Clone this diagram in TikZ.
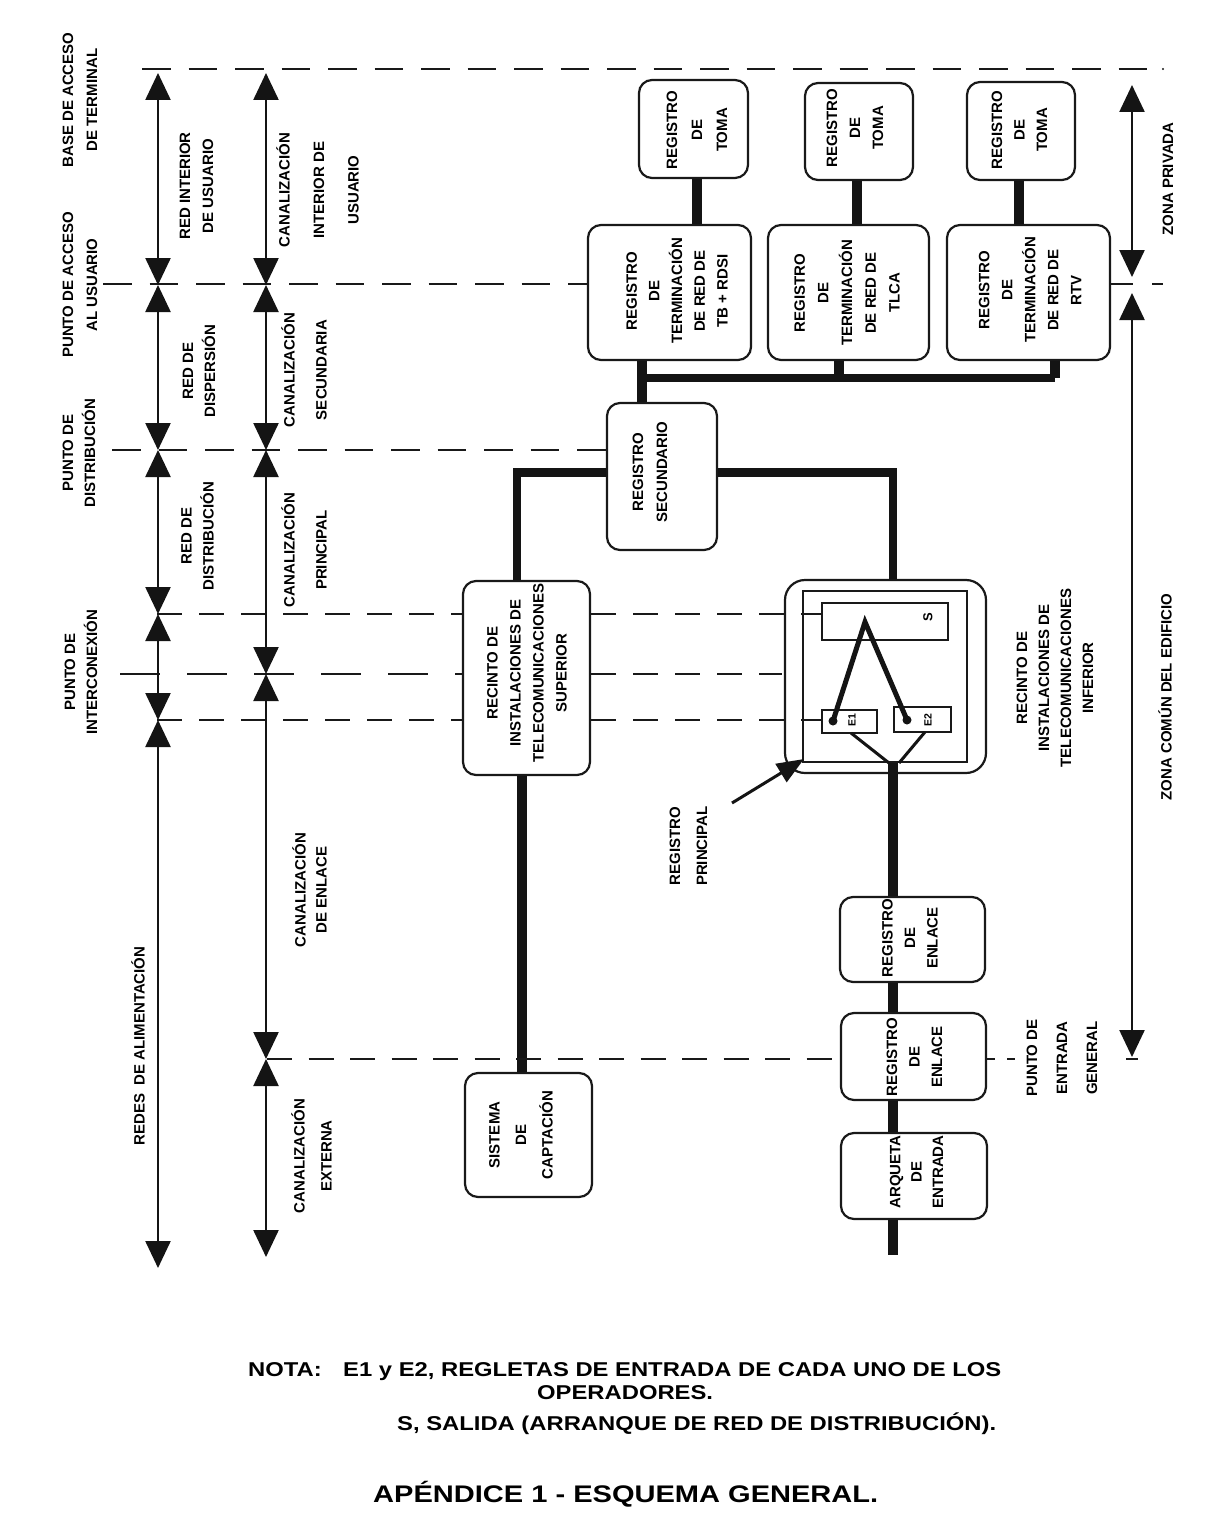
\documentclass[tikz,border=0pt]{standalone}
\usepackage{fontspec}
\setmainfont{Liberation Sans}
\usetikzlibrary{arrows.meta,calc}
\tikzset{
  txt/.style={rotate=90,align=center,inner sep=0pt,font=\bfseries\fontsize{15}{#1}\selectfont},
  txt/.default=23,
  rbox/.style={draw=black!90,line width=2.2pt,rounded corners=13pt,rotate=90,inner sep=0pt},
  sbox/.style={draw=black!90,line width=2.2pt,rotate=90,inner sep=0pt},
  heavy/.style={line width=9.5pt,black!92},
  axis/.style={line width=2.4pt,black!92,{Triangle[length=27pt,width=25pt]}-{Triangle[length=27pt,width=25pt]}},
  shortdash/.style={line width=2pt,black!90,dash pattern=on 25pt off 17pt},
  longdash/.style={line width=2pt,black!90,dash pattern=on 28.5pt off 18pt},
  widedash/.style={line width=2pt,black!90,dash pattern=on 40pt off 27pt},
  solidbit/.style={line width=2pt,black!90},
  tie/.style={line width=5pt,black!92},
  thinlink/.style={line width=3pt,black!92},
  notetext/.style={inner sep=0pt,anchor=base west,font=\bfseries\fontsize{20}{22}\selectfont\addfontfeature{FakeStretch=1.19}}
}
\begin{document}
\begin{tikzpicture}[x=1pt,y=-1pt]
\useasboundingbox (0,0) rectangle (1213,1536);
\fill[white] (0,0) rectangle (1213,1536);

% ---- boxes (rotated nodes: minimum width runs up the page)
\node[rbox,minimum width=98pt,minimum height=109pt] (toma1) at (693.5,129) {};
\node[rbox,minimum width=97pt,minimum height=108pt] (toma2) at (859,131.5) {};
\node[rbox,minimum width=98pt,minimum height=108pt] (toma3) at (1021,131) {};
\node[rbox,minimum width=135pt,minimum height=163pt] (term1) at (669.5,292.5) {};
\node[rbox,minimum width=135pt,minimum height=161pt] (term2) at (848.5,292.5) {};
\node[rbox,minimum width=135pt,minimum height=163pt] (term3) at (1028.5,292.5) {};
\node[rbox,minimum width=147pt,minimum height=110pt] (sec) at (662,476.5) {};
\node[rbox,minimum width=194pt,minimum height=127pt] (sup) at (526.5,678) {};
\node[rbox,minimum width=124pt,minimum height=127pt] (capt) at (528.5,1135) {};
\node[rbox,minimum width=193pt,minimum height=201pt,rounded corners=20pt] (outer) at (885.5,676.5) {};
\node[sbox,minimum width=171pt,minimum height=164pt] (inner) at (885,676.5) {};
\node[sbox,minimum width=37pt,minimum height=126pt] (sreg) at (885,621.5) {};
\node[sbox,minimum width=23pt,minimum height=55pt] (e1) at (849.5,721.5) {};
\node[sbox,minimum width=25pt,minimum height=57pt] (e2) at (922.5,719.5) {};
\node[rbox,minimum width=85pt,minimum height=145pt] (enl1) at (912.5,939.5) {};
\node[rbox,minimum width=87pt,minimum height=145pt] (enl2) at (913.5,1056.5) {};
\node[rbox,minimum width=86pt,minimum height=146pt] (arq) at (914,1176) {};

% ---- box texts
\node[txt=25] (ltoma1) at (697,130) {REGISTRO\\DE\\TOMA};
\node[txt=23] (ltoma2) at (855,128) {REGISTRO\\DE\\TOMA};
\node[txt=22.5] (ltoma3) at (1019.5,130) {REGISTRO\\DE\\TOMA};
\node[txt=22.7] (lterm1) at (677,291) {REGISTRO\\DE\\TERMINACIÓN\\DE RED DE\\TB + RDSI};
\node[txt=23.7] (lterm2) at (847,293) {REGISTRO\\DE\\TERMINACIÓN\\DE RED DE\\TLCA};
\node[txt=23] (lterm3) at (1030,290) {REGISTRO\\DE\\TERMINACIÓN\\DE RED DE\\RTV};
\node[txt=24] (lsec) at (650,472) {REGISTRO\\SECUNDARIO};
\node[txt=23] (lsup) at (527,673) {RECINTO DE\\INSTALACIONES DE\\TELECOMUNICACIONES\\SUPERIOR};
\node[txt=26.5] (lcapt) at (521,1135) {SISTEMA\\DE\\CAPTACIÓN};
\node[txt=22.5] (lenl1) at (910,938) {REGISTRO\\DE\\ENLACE};
\node[txt=22.5] (lenl2) at (914.5,1057) {REGISTRO\\DE\\ENLACE};
\node[txt=21.5] (larq) at (916.5,1172) {ARQUETA\\DE\\ENTRADA};

\node[rotate=90,inner sep=0pt,font=\bfseries\fontsize{13}{14}\selectfont] (lS) at (928,617) {S};
\node[rotate=90,inner sep=0pt,font=\bfseries\fontsize{10.5}{11}\selectfont] (lE1) at (852,720) {E1};
\node[rotate=90,inner sep=0pt,font=\bfseries\fontsize{10.5}{11}\selectfont] (lE2) at (928,720) {E2};

% ---- heavy connectors
\coordinate (xa) at (697,0); \coordinate (xb) at (857,0); \coordinate (xc) at (1019,0);
\coordinate (xd) at (642,0); \coordinate (xe) at (839,0); \coordinate (xf) at (1055,0);
\coordinate (ybus) at (0,378);
\coordinate (xm) at (893,0);
\coordinate (tail) at (893,1255);
\draw[heavy] (xa |- toma1.west) -- (xa |- term1.east);
\draw[heavy] (xb |- toma2.west) -- (xb |- term2.east);
\draw[heavy] (xc |- toma3.west) -- (xc |- term3.east);
\draw[heavy] (xd |- term1.west) -- (xd |- sec.east);
\draw[heavy] (xe |- term2.west) -- (xe |- ybus);
\draw[heavy] (xf |- term3.west) -- (xf |- ybus);
\draw[heavy,line width=8pt,line cap=square] (xd |- ybus) -- (xf |- ybus);
\coordinate (ys) at (0,472.5); \coordinate (xl) at (517,0);
\draw[heavy,line width=8.5pt,line join=miter] (sec.north |- ys) -- (xl |- ys) -- (xl |- sup.east);
\draw[heavy,line width=8.5pt,line join=miter] (sec.south |- ys) -- (xm |- ys) -- (xm |- outer.east);
\coordinate (xl2) at (522,0);
\draw[heavy] (xl2 |- sup.west) -- (xl2 |- capt.east);
\coordinate (junc) at (893,763);
\draw[heavy] (junc) -- (xm |- enl1.east);
\draw[heavy] (xm |- enl1.west) -- (xm |- enl2.east);
\draw[heavy] (xm |- enl2.west) -- (xm |- arq.east);
\draw[heavy] (xm |- arq.west) -- (tail);

% ---- inside the main register
\coordinate (apex) at (865,622);
\coordinate (d1) at (833,721);
\coordinate (d2) at (907,720);
\draw[tie,line join=miter] (d1) -- (apex) -- (d2);
\fill[black!92] (d1) circle (4.5pt) (d2) circle (4.5pt);
\coordinate (b1) at (851,733); \coordinate (b2) at (925,732);
\draw[thinlink] (b1) -- (889,763);
\draw[thinlink] (b2) -- (899,763);

% ---- arrow to main register
\coordinate (ra) at (732,803);
\coordinate (rb) at (804,759);
\draw[line width=3pt,black!92,-{Triangle[length=27pt,width=21pt]}] (ra) -- (rb);

% ---- dashed levels
\coordinate (y0l) at (142,69); \coordinate (y0r) at (1150,69); \coordinate (y0s) at (1163,69);
\draw[longdash] (y0l) -- (y0r);
\fill[black!90] (y0s) circle (1.2pt);
\coordinate (y1l) at (103,284); \coordinate (y1m) at (1133,284); \coordinate (y1n) at (1152,284); \coordinate (y1r) at (1163,284);
\draw[longdash] (y1l) -- (y1l -| term1.north);
\draw[solidbit] (y1m -| term3.south) -- (y1m);
\draw[solidbit] (y1n) -- (y1r);
\coordinate (y2l) at (112,450);
\draw[longdash] (y2l) -- (y2l -| sec.north);
\coordinate (y3l) at (157,614); \coordinate (y3r) at (822,614);
\draw[shortdash] (y3l) -- (y3l -| sup.north);
\draw[shortdash] (y3r -| sup.south) -- (y3r);
\coordinate (y4l) at (120,674); \coordinate (y4r) at (782,674);
\draw[widedash] (y4l) -- (y4l -| sup.north);
\draw[shortdash] (y4r -| sup.south) -- (y4r);
\coordinate (y5l) at (157,720); \coordinate (y5r) at (822,720);
\draw[shortdash] (y5l) -- (y5l -| sup.north);
\draw[shortdash] (y5r -| sup.south) -- (y5r);
\coordinate (y6l) at (267,1059); \coordinate (y6a) at (995,1059);
\coordinate (y6b) at (1007,1059); \coordinate (y6c) at (1015,1059);
\coordinate (y6d) at (1126,1059); \coordinate (y6e) at (1138,1059);
\draw[shortdash,dash pattern=on 25pt off 16.5pt] (y6l) -- (y6l -| enl2.north);
\draw[solidbit] (y6a -| enl2.south) -- (y6a);
\draw[solidbit] (y6b) -- (y6c);
\draw[solidbit] (y6d) -- (y6e);

% ---- axes
\coordinate (a0) at (158,73); \coordinate (a1) at (158,285); \coordinate (a2) at (158,450);
\coordinate (a3) at (158,614); \coordinate (a4) at (158,720); \coordinate (a5) at (158,1268);
\draw[axis] (a0) -- (a1);
\draw[axis] (a1) -- (a2);
\draw[axis] (a2) -- (a3);
\draw[axis] (a3) -- (a4);
\draw[axis] (a4) -- (a5);
\coordinate (m0) at (266,73); \coordinate (m1) at (266,285); \coordinate (m2) at (266,450);
\coordinate (m3) at (266,674); \coordinate (m4) at (266,1059); \coordinate (m5) at (266,1257);
\draw[axis] (m0) -- (m1);
\draw[axis] (m1) -- (m2);
\draw[axis] (m2) -- (m3);
\draw[axis] (m3) -- (m4);
\draw[axis] (m4) -- (m5);
\coordinate (r0) at (1132,85); \coordinate (r1) at (1132,277);
\coordinate (r2) at (1132,293); \coordinate (r3) at (1132,1057);
\draw[axis] (r0) -- (r1);
\draw[axis] (r2) -- (r3);

% ---- labels
\node[txt=24] (t1) at (80,100) {BASE DE ACCESO\\DE TERMINAL};
\node[txt=24] (t2) at (80,285) {PUNTO DE ACCESO\\AL USUARIO};
\node[txt=22] (t3) at (79,453) {PUNTO DE\\DISTRIBUCIÓN};
\node[txt=22] (t4) at (81,672) {PUNTO DE\\INTERCONEXIÓN};
\node[txt] (t5) at (196.5,186) {RED INTERIOR\\DE USUARIO};
\node[txt=22] (t6) at (199,371) {RED DE\\DISPERSIÓN};
\node[txt=22] (t7) at (197.5,536) {RED DE\\DISTRIBUCIÓN};
\node[txt] (t8) at (138,1046) {REDES\ \ DE ALIMENTACIÓN};
\node[txt=34.5] (t9) at (317.5,190) {CANALIZACIÓN\\INTERIOR DE\\USUARIO};
\node[txt=32] (t10) at (304,370) {CANALIZACIÓN\\SECUNDARIA};
\node[txt=32] (t11) at (304,550) {CANALIZACIÓN\\PRINCIPAL};
\node[txt=21] (t12) at (309.5,890) {CANALIZACIÓN\\DE ENLACE};
\node[txt=27] (t13) at (311.5,1156) {CANALIZACIÓN\\EXTERNA};
\node[txt=27] (t14) at (688.5,846) {REGISTRO\\PRINCIPAL};
\node[txt=22] (t15) at (1055,678) {RECINTO DE\\INSTALACIONES DE\\TELECOMUNICACIONES\\INFERIOR};
\node[txt=30] (t16) at (1062,1058) {PUNTO DE\\ENTRADA\\GENERAL};
\node[txt] (t17) at (1168,179) {ZONA PRIVADA};
\node[txt] (t18) at (1165,697) {ZONA COMÚN DEL EDIFICIO};

% ---- notes
\node[notetext] (n1) at (248,1376) {NOTA:};
\node[notetext] (n2) at (343,1376) {E1 y E2, REGLETAS DE ENTRADA DE CADA UNO DE LOS};
\node[notetext] (n3) at (537,1399) {OPERADORES.};
\node[notetext] (n4) at (397,1430) {S, SALIDA (ARRANQUE DE RED DE DISTRIBUCIÓN).};
\node[inner sep=0pt,anchor=base west,font=\bfseries\fontsize{24}{26}\selectfont\addfontfeature{FakeStretch=1.21}] (n5) at (373,1502) {APÉNDICE 1 - ESQUEMA GENERAL.};
\end{tikzpicture}
\end{document}
